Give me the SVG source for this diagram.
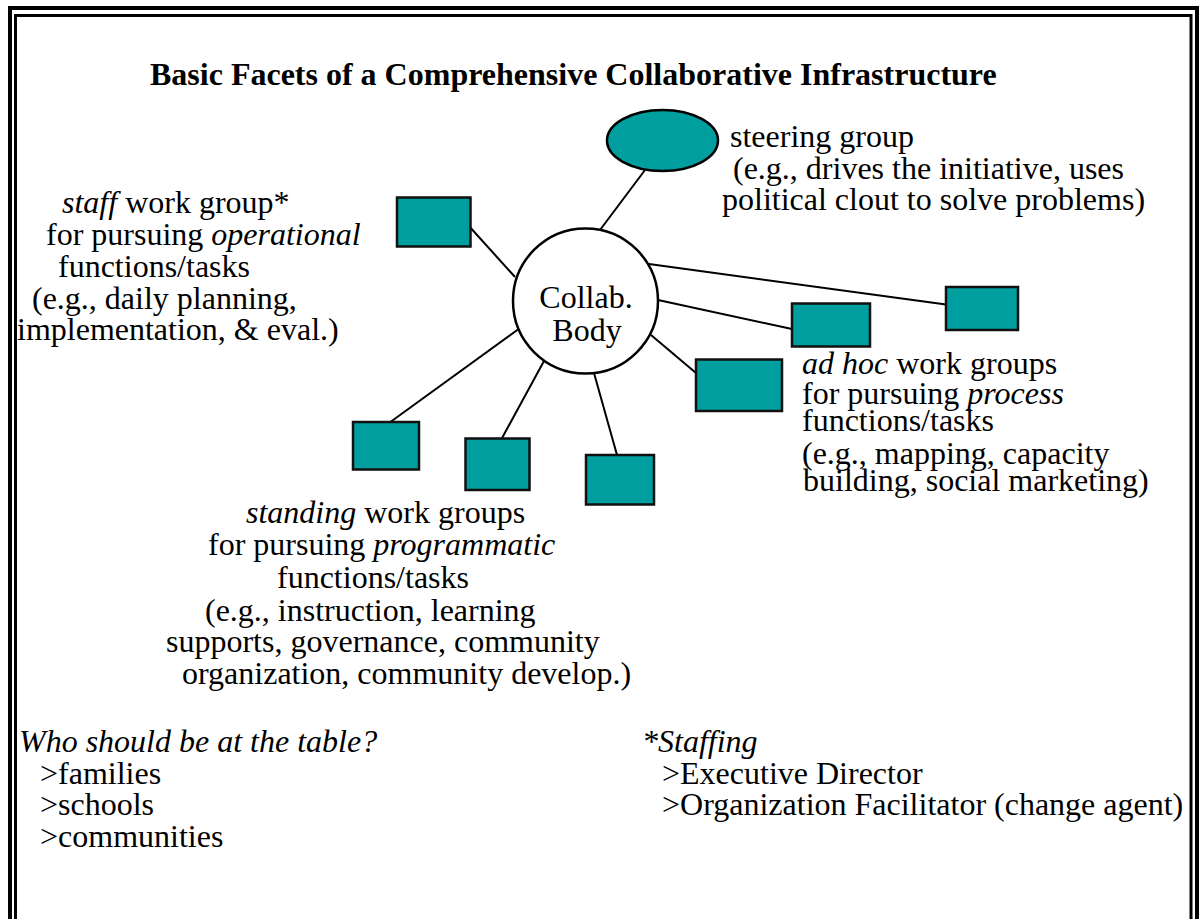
<svg xmlns="http://www.w3.org/2000/svg" width="1202" height="919" viewBox="0 0 1202 919">
<style>
  text { font-family: "Liberation Serif", "Times New Roman", serif; font-size: 32px; fill: #000; }
  .title { font-weight: bold; }
  .it { font-style: italic; }
  .box { fill: #009E9E; stroke: #111; stroke-width: 2.5; }
  .conn line { stroke: #000; stroke-width: 2; }
</style>
<rect x="0" y="0" width="1202" height="919" fill="#fff"/>
<g id="frame" fill="none" stroke="#000">
  <rect x="10" y="8" width="1187" height="1000" stroke-width="4"/>
  <rect x="15.5" y="15.5" width="1175.5" height="1000" stroke-width="3"/>
</g>
<text class="title" x="150" y="85">Basic Facets of a Comprehensive Collaborative Infrastructure</text>
<g class="conn" id="connectors">
  <line x1="600" y1="230" x2="645" y2="170"/>
  <line x1="468" y1="225" x2="515" y2="277"/>
  <line x1="649" y1="264" x2="946" y2="304.5"/>
  <line x1="658" y1="300" x2="792" y2="329"/>
  <line x1="651" y1="335" x2="696" y2="373"/>
  <line x1="520" y1="328" x2="389" y2="423"/>
  <line x1="544" y1="361" x2="501.5" y2="439"/>
  <line x1="594" y1="373" x2="617" y2="455"/>
</g>
<g id="collab-body">
  <circle cx="585.5" cy="301" r="72.5" fill="#fff" stroke="#000" stroke-width="2.5"/>
  <text x="586" y="308" text-anchor="middle">Collab.</text>
  <text x="587" y="341" text-anchor="middle">Body</text>
</g>
<g id="steering-group">
  <ellipse cx="662.5" cy="140.5" rx="55.5" ry="30.5" fill="#009E9E" stroke="#000" stroke-width="2.5"/>
  <text x="730" y="147">steering group</text>
  <text x="733" y="179">(e.g., drives the initiative, uses</text>
  <text x="722" y="210">political clout to solve problems)</text>
</g>
<g id="staff-work-group">
  <rect class="box" x="397" y="197.5" width="73.5" height="49"/>
  <text x="62" y="213"><tspan class="it">staff</tspan> work group*</text>
  <text x="46" y="245">for pursuing <tspan class="it">operational</tspan></text>
  <text x="58" y="277">functions/tasks</text>
  <text x="32" y="309">(e.g., daily planning,</text>
  <text x="17" y="340">implementation, &amp; eval.)</text>
</g>
<g id="adhoc-work-groups">
  <rect class="box" x="946" y="287" width="72" height="43"/>
  <rect class="box" x="792" y="303.5" width="78" height="43"/>
  <rect class="box" x="696" y="359.5" width="86" height="51.5"/>
  <text x="802" y="374"><tspan class="it">ad hoc</tspan> work groups</text>
  <text x="802" y="404">for pursuing <tspan class="it">process</tspan></text>
  <text x="802" y="431">functions/tasks</text>
  <text x="802" y="464">(e.g., mapping, capacity</text>
  <text x="803" y="491">building, social marketing)</text>
</g>
<g id="standing-work-groups">
  <rect class="box" x="353" y="422" width="66" height="47.5"/>
  <rect class="box" x="465.5" y="438.5" width="64" height="51.5"/>
  <rect class="box" x="586" y="455" width="68" height="49.5"/>
  <text x="246" y="523"><tspan class="it">standing</tspan> work groups</text>
  <text x="208" y="555">for pursuing <tspan class="it">programmatic</tspan></text>
  <text x="277" y="588">functions/tasks</text>
  <text x="205" y="621">(e.g., instruction, learning</text>
  <text x="166" y="652">supports, governance, community</text>
  <text x="182" y="684">organization, community develop.)</text>
</g>
<g id="table">
  <text class="it" x="19" y="752">Who should be at the table?</text>
  <text x="40" y="784">&gt;families</text>
  <text x="40" y="815">&gt;schools</text>
  <text x="40" y="847">&gt;communities</text>
</g>
<g id="staffing">
  <text class="it" x="642" y="752">*Staffing</text>
  <text x="662" y="784">&gt;Executive Director</text>
  <text x="662" y="815">&gt;Organization Facilitator (change agent)</text>
</g>
</svg>
